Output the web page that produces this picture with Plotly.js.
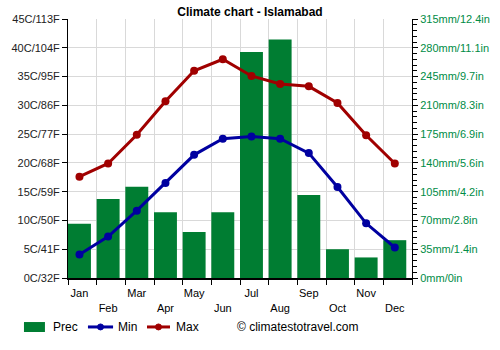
<!DOCTYPE html>
<html>
<head>
<meta charset="utf-8">
<script src="https://cdn.plot.ly/plotly-3.0.1.min.js"></script>
<style>html,body{margin:0;padding:0;background:#fff;}#chart{width:500px;height:350px;}</style>
</head>
<body>
<div id="chart"></div>
<script>
var months = ["Jan","Feb","Mar","Apr","May","Jun","Jul","Aug","Sep","Oct","Nov","Dec"];
var monthLabels = ["Jan","<br>Feb","Mar","<br>Apr","May","<br>Jun","Jul","<br>Aug","Sep","<br>Oct","Nov","<br>Dec"];
var prec = [66, 96, 111, 80, 56, 80, 275, 290, 101, 35, 25, 46];
var tmin = [4.1, 7.2, 11.7, 16.5, 21.4, 24.2, 24.6, 24.2, 21.7, 15.8, 9.5, 5.3];
var tmax = [17.6, 19.9, 24.9, 30.7, 36.0, 38.0, 35.1, 33.7, 33.3, 30.4, 24.8, 19.9];
var tempTickVals = [0,5,10,15,20,25,30,35,40,45];
var tempTickText = ["0C/32F","5C/41F","10C/50F","15C/59F","20C/68F","25C/77F","30C/86F","35C/95F","40C/104F","45C/113F"];
var precTickVals = [0,35,70,105,140,175,210,245,280,315];
var precTickText = ["0mm/0in","35mm/1.4in","70mm/2.8in","105mm/4.2in","140mm/5.6in","175mm/6.9in","210mm/8.3in","245mm/9.7in","280mm/11.1in","315mm/12.4in"];

var green = "rgb(0,125,50)";
var blue = "rgb(0,0,160)";
var red = "rgb(160,0,0)";
var font = "Liberation Sans, Arial, sans-serif";

var traces = [
  {type:"bar", name:"Prec", x:months, y:prec, xaxis:"x", yaxis:"y", offset:-0.5, width:0.8, marker:{color:green}},
  {type:"scatter", mode:"lines+markers", name:"Min", x:months, y:tmin, xaxis:"x2", yaxis:"y2",
   line:{color:blue, width:3}, marker:{color:blue, size:8}},
  {type:"scatter", mode:"lines+markers", name:"Max", x:months, y:tmax, xaxis:"x2", yaxis:"y2",
   line:{color:red, width:3}, marker:{color:red, size:8}}
];

// manual legend (paper coordinates)
var ly = -0.189;
var legendShapes = [
  {type:"rect", xref:"paper", yref:"paper", x0:-0.128, x1:-0.067, y0:-0.2085, y1:-0.170, fillcolor:green, line:{width:0}},
  {type:"line", xref:"paper", yref:"paper", x0:0.058, x1:0.131, y0:ly, y1:ly, line:{color:blue, width:3}},
  {type:"circle", xref:"paper", yref:"paper", xsizemode:"pixel", ysizemode:"pixel", xanchor:0.0945, yanchor:ly, x0:-3, x1:3, y0:-3, y1:3, fillcolor:blue, line:{color:blue, width:1}},
  {type:"line", xref:"paper", yref:"paper", x0:0.2297, x1:0.2965, y0:ly, y1:ly, line:{color:red, width:3}},
  {type:"circle", xref:"paper", yref:"paper", xsizemode:"pixel", ysizemode:"pixel", xanchor:0.263, yanchor:ly, x0:-3, x1:3, y0:-3, y1:3, fillcolor:red, line:{color:red, width:1}}
];
var legendTexts = [
  {text:"Prec", x:-0.0494},
  {text:"Min", x:0.1395},
  {text:"Max", x:0.308},
  {text:"© climatestotravel.com", x:0.485}
].map(function(d){
  return {text:d.text, xref:"paper", yref:"paper", x:d.x, y:ly, xanchor:"left", yanchor:"middle", showarrow:false, font:{size:12, color:"#000"}};
});

var layout = {
  width:500, height:350,
  margin:{l:68, r:88, t:19, b:72},
  paper_bgcolor:"#fff", plot_bgcolor:"#fff",
  font:{family:font, size:11, color:"#000"},
  title:{text:"<b>Climate chart - Islamabad</b>", x:0.5, xanchor:"center", y:0.965, yanchor:"middle", font:{size:12, color:"#000", family:font}},
  showlegend:false,
  xaxis:{type:"category", tickmode:"array", tickvals:months, showticklabels:false,
    tickson:"boundaries", ticks:"outside", ticklen:5, tickcolor:"#000",
    showgrid:true, gridcolor:"#d9d9d9", gridwidth:1,
    showline:true, linecolor:"#000", linewidth:2, range:[-0.5,11.5], fixedrange:true},
  xaxis2:{type:"category", overlaying:"x", anchor:"y2", side:"bottom", range:[-0.4,11.6],
    tickmode:"array", tickvals:months, ticktext:monthLabels, tickangle:0,
    ticks:"outside", ticklen:5, tickcolor:"rgba(0,0,0,0)", showline:false, showgrid:false, zeroline:false,
    tickfont:{size:11, color:"#000"}},
  yaxis:{range:[0,315], side:"right", tickmode:"array", tickvals:precTickVals, ticktext:precTickText,
    showgrid:true, gridcolor:"#d9d9d9", gridwidth:1, zeroline:false, showline:true, linecolor:"#000", linewidth:1,
    ticks:"outside", ticklen:5, tickcolor:"#000",
    minor:{dtick:7, ticks:"outside", ticklen:4, tickcolor:"#000", showgrid:false},
    tickfont:{size:11, color:"rgb(0,140,70)"}},
  yaxis2:{range:[0,45], overlaying:"y", anchor:"x2", side:"left", tickmode:"array", tickvals:tempTickVals, ticktext:tempTickText,
    showgrid:false, zeroline:false,
    showline:true, linecolor:"#000", linewidth:1, ticks:"outside", ticklen:5, tickcolor:"#000",
    tickfont:{size:11, color:"#222"}},
  shapes:legendShapes,
  annotations:legendTexts
};

Plotly.newPlot("chart", traces, layout, {displayModeBar:false, staticPlot:true});
</script>
</body>
</html>
